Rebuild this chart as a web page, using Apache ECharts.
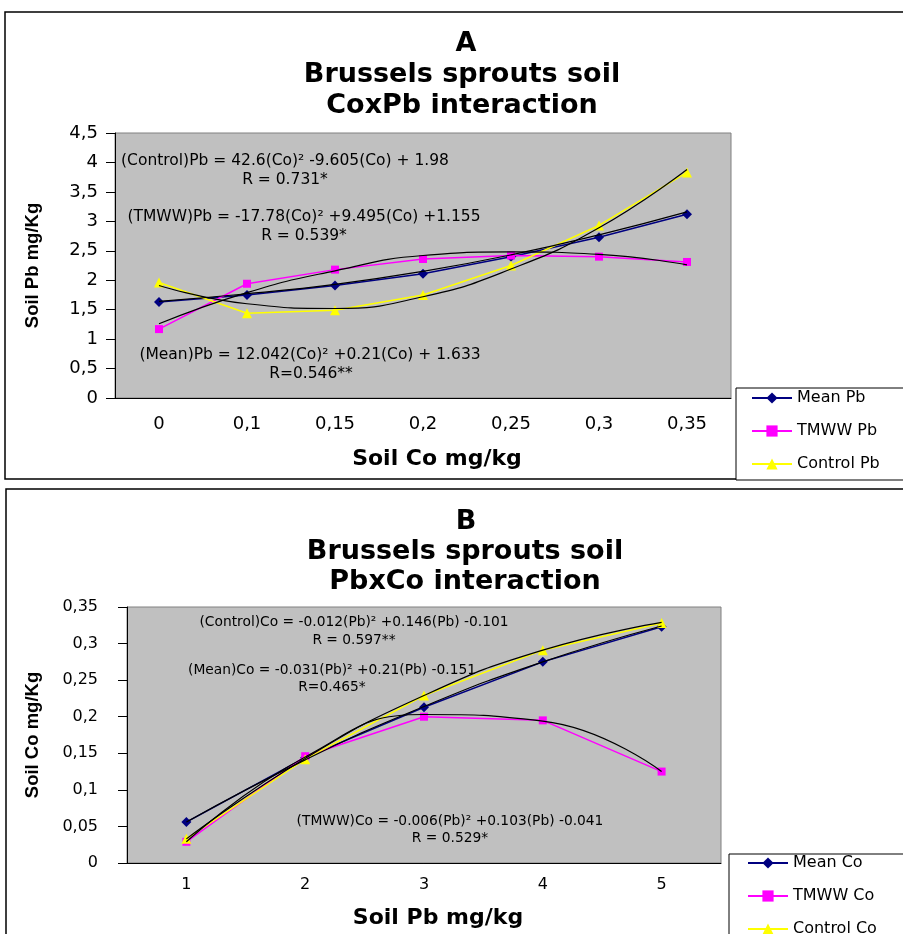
<!DOCTYPE html>
<html><head><meta charset="utf-8">
<script src="https://cdn.jsdelivr.net/npm/echarts@6/dist/echarts.min.js"></script>
<style>html,body{margin:0;padding:0;background:#fff}#c{width:903px;height:934px}</style>
</head><body><div id="c"></div>
<script>
// ---- Chart A data (Soil Co categories, Pb values) ----
const catsA = ['0', '0,1', '0,15', '0,2', '0,25', '0,3', '0,35'];
const meanPb = [1.63, 1.75, 1.91, 2.11, 2.40, 2.73, 3.12];
const tmwwPb = [1.17, 1.94, 2.18, 2.36, 2.42, 2.40, 2.31];
const controlPb = [1.96, 1.44, 1.49, 1.75, 2.25, 2.93, 3.83];
const trendMeanPb = [1.64, 1.77, 1.93, 2.15, 2.43, 2.77, 3.16];
const trendTmwwPb = [1.26, 1.79, 2.16, 2.42, 2.48, 2.44, 2.26];
const trendControlPb = [1.91, 1.60, 1.52, 1.72, 2.19, 2.89, 3.88];

// ---- Chart B data (Soil Pb categories, Co values) ----
const catsB = ['1', '2', '3', '4', '5'];
const meanCo = [0.056, 0.144, 0.213, 0.275, 0.323];
const tmwwCo = [0.029, 0.146, 0.200, 0.195, 0.125];
const controlCo = [0.033, 0.142, 0.229, 0.291, 0.328];
const trendMeanCo = [0.056, 0.141, 0.214, 0.275, 0.324];
const trendTmwwCo = [0.029, 0.145, 0.203, 0.194, 0.125];
const trendControlCo = [0.033, 0.143, 0.229, 0.291, 0.329];

const legendA = ['Mean Pb', 'TMWW Pb', 'Control Pb'];
const legendB = ['Mean Co', 'TMWW Co', 'Control Co'];

const FONT = 'DejaVu Sans';
const fmt = v => String(Math.round(v * 100) / 100).replace('.', ',');

function txt(x, y, text, size, bold) {
  return {
    type: 'text', x: x, y: y, z: 50,
    style: {
      text: text, fill: '#000',
      font: (bold ? 'bold ' : '') + size + 'px "' + FONT + '"',
      align: 'center', verticalAlign: 'middle',
      textAlign: 'center', textVerticalAlign: 'middle'
    }
  };
}

function xAx(grid, cats, name, size, margin, nameGap) {
  return {
    gridIndex: grid, type: 'category', data: cats, boundaryGap: true,
    axisLine: { lineStyle: { color: '#000', width: 1 } },
    axisTick: { length: 6, lineStyle: { color: '#000' } },
    axisLabel: { color: '#000', fontFamily: FONT, fontSize: size, margin: margin },
    name: name, nameLocation: 'middle', nameGap: nameGap,
    nameTextStyle: { fontFamily: FONT, fontWeight: 'bold', fontSize: 22, color: '#000', padding: [0, 0, 0, 28] }
  };
}
function yAx(grid, max, interval, name, size, margin, nameGap) {
  return {
    gridIndex: grid, type: 'value', min: 0, max: max, interval: interval,
    splitLine: { show: false },
    axisLine: { show: true, lineStyle: { color: '#000', width: 1 } },
    axisTick: { show: true, length: 9, lineStyle: { color: '#000' } },
    axisLabel: { color: '#000', fontFamily: FONT, fontSize: size, margin: margin, formatter: fmt },
    name: name, nameLocation: 'middle', nameRotate: 90, nameGap: nameGap,
    nameTextStyle: { fontFamily: 'Liberation Sans', fontWeight: 'bold', fontSize: 18.5, color: '#000' }
  };
}
function dataSeries(name, data, grid, color, symbol, size) {
  return {
    name: name, type: 'line', xAxisIndex: grid, yAxisIndex: grid, data: data,
    symbol: symbol, symbolSize: size, z: 2,
    itemStyle: { color: color },
    lineStyle: { color: color, width: 1.5 }
  };
}
function trendSeries(name, data, grid) {
  return {
    name: name, type: 'line', xAxisIndex: grid, yAxisIndex: grid, data: data,
    symbol: 'none', smooth: 0.5, z: 3, silent: true,
    lineStyle: { color: '#000', width: 1.2 }
  };
}
function legend(names, left, top, pad) {
  return {
    data: names, orient: 'vertical', left: left, top: top, height: 140,
    padding: pad, itemWidth: 40, itemHeight: 14, itemGap: 17,
    borderColor: '#000', borderWidth: 1, backgroundColor: '#fff',
    textStyle: { fontFamily: FONT, fontSize: 16, color: '#000' },
    selectedMode: false
  };
}

const option = {
  animation: false,
  backgroundColor: '#fff',
  grid: [
    { left: 115, top: 133, width: 616, height: 265, show: true, backgroundColor: '#c0c0c0', borderColor: '#808080', borderWidth: 1 },
    { left: 127, top: 607, width: 594, height: 256, show: true, backgroundColor: '#c0c0c0', borderColor: '#808080', borderWidth: 1 }
  ],
  xAxis: [
    xAx(0, catsA, 'Soil Co mg/kg', 18, 17, 50),
    xAx(1, catsB, 'Soil Pb mg/kg', 16, 14, 44)
  ],
  yAxis: [
    yAx(0, 4.5, 0.5, 'Soil Pb mg/Kg', 18, 17, 73),
    yAx(1, 0.35, 0.05, 'Soil Co mg/Kg', 16, 29, 85)
  ],
  legend: [
    legend(legendA, 736, 388, [2, 40, 8, 15]),
    legend(legendB, 729, 854, [1, 40, 20, 18])
  ],
  series: [
    dataSeries('Mean Pb', meanPb, 0, '#000080', 'diamond', 10),
    dataSeries('TMWW Pb', tmwwPb, 0, '#ff00ff', 'rect', 8),
    dataSeries('Control Pb', controlPb, 0, '#ffff00', 'triangle', 10),
    trendSeries('trend Mean Pb', trendMeanPb, 0),
    trendSeries('trend TMWW Pb', trendTmwwPb, 0),
    trendSeries('trend Control Pb', trendControlPb, 0),
    dataSeries('Mean Co', meanCo, 1, '#000080', 'diamond', 10),
    dataSeries('TMWW Co', tmwwCo, 1, '#ff00ff', 'rect', 8),
    dataSeries('Control Co', controlCo, 1, '#ffff00', 'triangle', 10),
    trendSeries('trend Mean Co', trendMeanCo, 1),
    trendSeries('trend TMWW Co', trendTmwwCo, 1),
    trendSeries('trend Control Co', trendControlCo, 1)
  ],
  graphic: [
    { type: 'rect', z: 0, shape: { x: 5, y: 12, width: 960, height: 467 }, style: { fill: 'none', stroke: '#000', lineWidth: 1.5 } },
    { type: 'rect', z: 0, shape: { x: 6, y: 489, width: 960, height: 500 }, style: { fill: 'none', stroke: '#000', lineWidth: 1.5 } },
    txt(466, 44, 'A', 27, true),
    txt(462, 75, 'Brussels sprouts soil', 27, true),
    txt(462, 106, 'CoxPb interaction', 27, true),
    txt(466, 522, 'B', 27, true),
    txt(465, 552, 'Brussels sprouts soil', 27, true),
    txt(465, 582, 'PbxCo interaction', 27, true),
    txt(285, 161, '(Control)Pb = 42.6(Co)² -9.605(Co) + 1.98', 15.5, false),
    txt(285, 180, 'R = 0.731*', 15.5, false),
    txt(304, 217, '(TMWW)Pb = -17.78(Co)² +9.495(Co) +1.155', 15.5, false),
    txt(304, 236, 'R = 0.539*', 15.5, false),
    txt(310, 355, '(Mean)Pb = 12.042(Co)² +0.21(Co) + 1.633', 15.5, false),
    txt(311, 374, 'R=0.546**', 15.5, false),
    txt(354, 622, '(Control)Co = -0.012(Pb)² +0.146(Pb) -0.101', 13.8, false),
    txt(354, 640, 'R = 0.597**', 13.8, false),
    txt(332, 670, '(Mean)Co = -0.031(Pb)² +0.21(Pb) -0.151', 13.8, false),
    txt(332, 687, 'R=0.465*', 13.8, false),
    txt(450, 821, '(TMWW)Co = -0.006(Pb)² +0.103(Pb) -0.041', 13.8, false),
    txt(450, 838, 'R = 0.529*', 13.8, false)
  ]
};

const chart = echarts.init(document.getElementById('c'), null, { renderer: 'canvas' });
chart.setOption(option);
</script></body></html>
